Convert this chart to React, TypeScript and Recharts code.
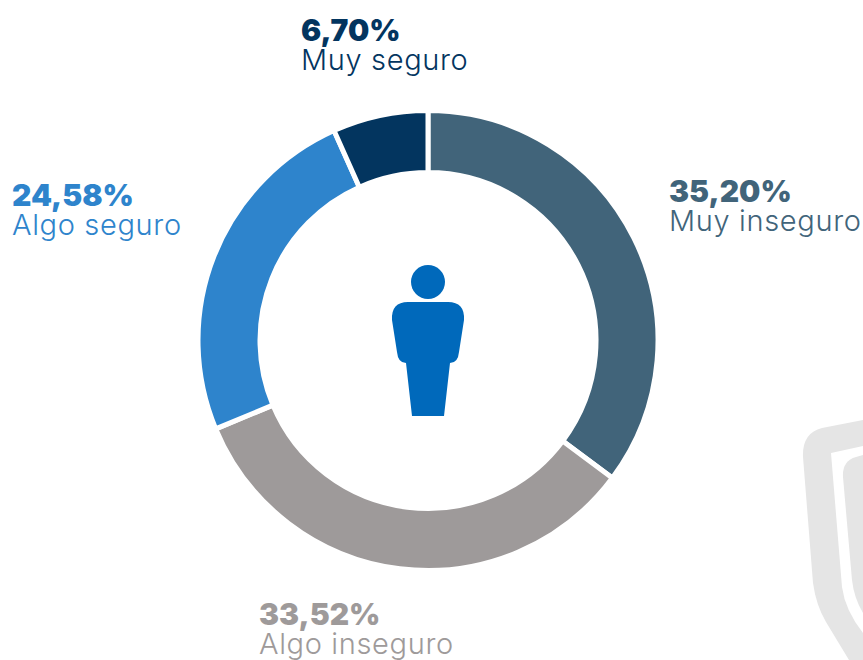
import { PieChart, Pie, Cell } from "recharts";

// ── Data ──

const categories = ["Muy inseguro", "Algo inseguro", "Algo seguro", "Muy seguro"];
const values = [35.2, 33.52, 24.58, 6.7];
const percentLabels = ["35,20%", "33,52%", "24,58%", "6,70%"];
const colors = ["#41647A", "#9E9A9A", "#2E84CC", "#03355F"];

const data = categories.map((name, i) => ({ name, value: values[i] }));

// Label anchors, same order as categories
const labelX = [669, 259, 12, 301];
const labelY = [202, 625, 206, 41];

const FONT = "Inter, 'Noto Sans', sans-serif";

// ── Custom shapes ──

function Watermark() {
  return (
    <g fill="#E5E5E5">
      <path d="M863 420 L822 428 Q802 433 803 457 L813 583 Q816 605 826 622 L849 660 L863 660 L863 633 Q845 610 842 587 L831 453 L863 446 Z" />
      <path d="M863 455 L856 457 Q842 461 843 477 L852 580 Q854 598 863 613 Z" />
    </g>
  );
}

function Person() {
  return (
    <g fill="#0069BB">
      <circle cx={428} cy={282} r={17} />
      <path d="M408 302 L448 302 Q465 302 464 320 L459 352 Q458 363 450 363 L444 416 L412 416 L406 363 Q398 363 397 352 L392 320 Q391 302 408 302 Z" />
    </g>
  );
}

export default function App() {
  return (
    <div style={{ position: "absolute", left: 0, top: 0, width: 863, height: 660, overflow: "hidden" }}>
      <PieChart width={863} height={660} margin={{ top: 0, right: 0, bottom: 0, left: 0 }}>
        <Watermark />
        <Pie
          data={data}
          dataKey="value"
          cx={428}
          cy={340.5}
          innerRadius={168}
          outerRadius={230}
          startAngle={90}
          endAngle={-270}
          stroke="#fff"
          strokeWidth={5}
          isAnimationActive={false}
          label={false}
          labelLine={false}
        >
          {data.map((entry, i) => (
            <Cell key={entry.name} fill={colors[i]} />
          ))}
        </Pie>
        <Person />
        {categories.map((name, i) => (
          <g key={name} fontFamily={FONT} fill={colors[i]}>
            <text x={labelX[i]} y={labelY[i]} fontSize={30} fontWeight={900}>
              {percentLabels[i]}
            </text>
            <text x={labelX[i]} y={labelY[i] + 29} fontSize={29} fontWeight={300} letterSpacing={0.65}>
              {name}
            </text>
          </g>
        ))}
      </PieChart>
    </div>
  );
}
